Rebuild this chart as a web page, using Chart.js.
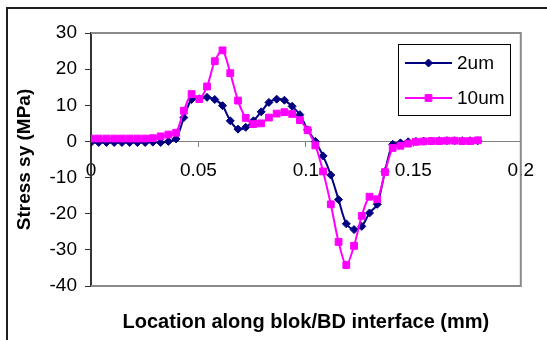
<!DOCTYPE html>
<html>
<head>
<meta charset="utf-8">
<script src="https://cdn.jsdelivr.net/npm/chart.js@4.4.1/dist/chart.umd.min.js"></script>
<style>
  html, body { margin: 0; padding: 0; background: #fff; }
  #wrap { position: relative; width: 547px; height: 340px; overflow: hidden; font-family: "Liberation Sans", Arial, sans-serif; }
  #frame { position: absolute; left: 6px; top: 7px; width: 600px; height: 400px; border-left: 2px solid #1e1e1e; border-top: 2px solid #1e1e1e; }
  #chart { position: absolute; left: 0; top: 0; }
  #legend { position: absolute; left: 398px; top: 44px; width: 113px; height: 72px; box-sizing: border-box; border: 1px solid #000; background: #fff; }
  #legend .row { position: absolute; left: 6px; height: 20px; display: flex; align-items: center; }
  #legend canvas { margin-right: 5px; }
  #legend span { font-size: 19px; line-height: 20px; color: #000; }
</style>
</head>
<body>
<div id="wrap">
  <div id="frame"></div>
  <canvas id="chart" width="547" height="340"></canvas>
  <div id="legend"></div>
</div>
<script>
"use strict";

// Location along the interface (mm), one entry per node
const X_MM = [
  0, 0.0036, 0.0072, 0.0108, 0.0144, 0.018, 0.0216, 0.0252, 0.0288, 0.0324,
  0.036, 0.0396, 0.0432, 0.0468, 0.0504, 0.054, 0.0576, 0.0612, 0.0648, 0.0684,
  0.072, 0.0756, 0.0792, 0.0828, 0.0864, 0.09, 0.0936, 0.0972, 0.1008, 0.1044,
  0.108, 0.1116, 0.1152, 0.1188, 0.1224, 0.126, 0.1296, 0.1332, 0.1368, 0.1404,
  0.144, 0.1476, 0.1512, 0.1548, 0.1584, 0.162, 0.1656, 0.1692, 0.1728, 0.1764,
  0.18,
];
// Stress sy (MPa)
const SY_2UM = [
  -0.3, -0.3, -0.3, -0.3, -0.3, -0.3, -0.3, -0.3, -0.2, -0.3,
  0, 0.7, 6.6, 11.6, 11.8, 12.2, 11.6, 9.9, 5.7, 3.4,
  3.9, 5.7, 8.2, 10.8, 11.7, 11.4, 9.7, 7.4, 3.2, 0,
  -4, -9.3, -16.1, -22.8, -24.4, -23.5, -19.8, -17.4, -8.3, -0.8,
  -0.4, -0.1, 0, 0.1, 0.1, 0.2, 0.2, 0.2, 0.2, 0.2,
  0.2,
];
const SY_10UM = [
  0.8, 0.8, 0.8, 0.8, 0.8, 0.8, 0.8, 0.8, 0.9, 1.4,
  1.9, 2.4, 8.5, 13.1, 11.7, 15.2, 22.2, 25.2, 18.9, 11.3,
  6.5, 4.8, 5.0, 6.6, 7.7, 8.1, 7.6, 5.9, 3.1, -1.1,
  -8.3, -17.4, -27.8, -34.2, -28.9, -20.6, -15.3, -16, -8.5, -1.8,
  -1.2, -0.6, -0.1, 0, 0.1, 0.1, 0.2, 0.2, 0.1, 0.1,
  0.3,
];

const X_TICKS = [0, 0.05, 0.1, 0.15, 0.2];
const X_TICK_LABELS = ["0", "0.05", "0.1", "0.15", "0.2"];
const Y_TICKS = [-40, -30, -20, -10, 0, 10, 20, 30];
const Y_TICK_LABELS = ["-40", "-30", "-20", "-10", "0", "10", "20", "30"];

const FONT = "'Liberation Sans', Arial, sans-serif";
// order 0 is drawn last, so the 10um squares sit on top like in Excel
const SERIES = [
  { label: "2um", values: SY_2UM, color: "#000080", pointStyle: "rectRot", radius: 4, order: 1 },
  { label: "10um", values: SY_10UM, color: "#ff00ff", pointStyle: "rect", radius: 4.8, order: 0 },
];

// grey box round the plot; the left edge is the dark y axis itself
const plotFrame = {
  id: "plotFrame",
  beforeDatasetsDraw(chart) {
    const { ctx, chartArea: a } = chart;
    ctx.save();
    ctx.strokeStyle = "#8a8a8a";
    ctx.lineWidth = 2;
    ctx.beginPath();
    ctx.moveTo(a.left, a.top);
    ctx.lineTo(a.right, a.top);
    ctx.lineTo(a.right, a.bottom);
    ctx.lineTo(a.left, a.bottom);
    ctx.stroke();
    ctx.restore();
  },
};

const chart = new Chart(document.getElementById("chart"), {
  type: "scatter",
  data: {
    datasets: SERIES.map((s) => ({
      label: s.label,
      data: X_MM.map((x, i) => ({ x, y: s.values[i] })),
      showLine: true,
      borderColor: s.color,
      backgroundColor: s.color,
      borderWidth: 2,
      tension: 0.3,
      pointStyle: s.pointStyle,
      pointRadius: s.radius,
      pointHoverRadius: s.radius,
      pointBorderWidth: 1,
      order: s.order,
    })),
  },
  options: {
    responsive: false,
    animation: false,
    devicePixelRatio: 1,
    layout: { padding: { left: 0, top: 33, right: 17, bottom: 0 } },
    plugins: { legend: { display: false }, tooltip: { enabled: false } },
    scales: {
      // bottom axis only carries the title
      x: {
        type: "linear", position: "bottom", min: 0, max: 0.2,
        ticks: { display: false },
        grid: { display: false },
        border: { display: false },
        title: {
          display: true, text: "Location along blok/BD interface (mm)", color: "#000",
          font: { family: FONT, size: 20, weight: "bold" }, padding: { top: 0, bottom: 6 },
        },
        afterFit: (s) => { s.height = 54; },
      },
      // the visible x axis crosses at y = 0
      x0: {
        type: "linear", axis: "x", position: { y: 0 }, min: 0, max: 0.2,
        afterBuildTicks: (s) => { s.ticks = X_TICKS.map((value) => ({ value })); },
        ticks: {
          color: "#000", font: { family: FONT, size: 19 }, padding: 13, maxRotation: 0,
          callback: (v) => X_TICK_LABELS[X_TICKS.indexOf(v)],
        },
        grid: { drawOnChartArea: false, drawTicks: true, tickLength: 5, color: "#808080", lineWidth: 1 },
        border: { color: "#808080", width: 1 },
      },
      y: {
        type: "linear", position: "left", min: -40, max: 30,
        afterBuildTicks: (s) => { s.ticks = Y_TICKS.map((value) => ({ value })); },
        ticks: {
          color: "#000", font: { family: FONT, size: 19 }, padding: 8,
          callback: (v) => Y_TICK_LABELS[Y_TICKS.indexOf(v)],
        },
        grid: { drawOnChartArea: false, drawTicks: true, tickLength: 6, color: "#333" },
        border: { color: "#333", width: 2 },
        title: {
          display: true, text: "Stress sy (MPa)", color: "#000",
          font: { family: FONT, size: 19, weight: "bold" }, padding: { top: 13, bottom: 0 },
        },
        afterFit: (s) => { s.width = 91; },
      },
    },
  },
  plugins: [plotFrame],
});

/* ---- legend box inside the plot, swatches drawn with Chart.js' own point helper ---- */

function buildLegend() {
  const box = document.getElementById("legend");
  SERIES.forEach((s, i) => {
    const row = document.createElement("div");
    row.className = "row";
    row.style.top = `${8 + i * 35}px`;
    const sw = document.createElement("canvas");
    sw.width = 47;
    sw.height = 14;
    const c = sw.getContext("2d");
    c.strokeStyle = s.color;
    c.fillStyle = s.color;
    c.lineWidth = 2;
    c.beginPath();
    c.moveTo(0, 7);
    c.lineTo(47, 7);
    c.stroke();
    c.lineWidth = 1;
    Chart.helpers.drawPoint(c, { pointStyle: s.pointStyle, radius: s.radius, borderWidth: 1, rotation: 0 }, 23.5, 7);
    const label = document.createElement("span");
    label.textContent = s.label;
    row.append(sw, label);
    box.append(row);
  });
}

buildLegend();
</script>
</body>
</html>
